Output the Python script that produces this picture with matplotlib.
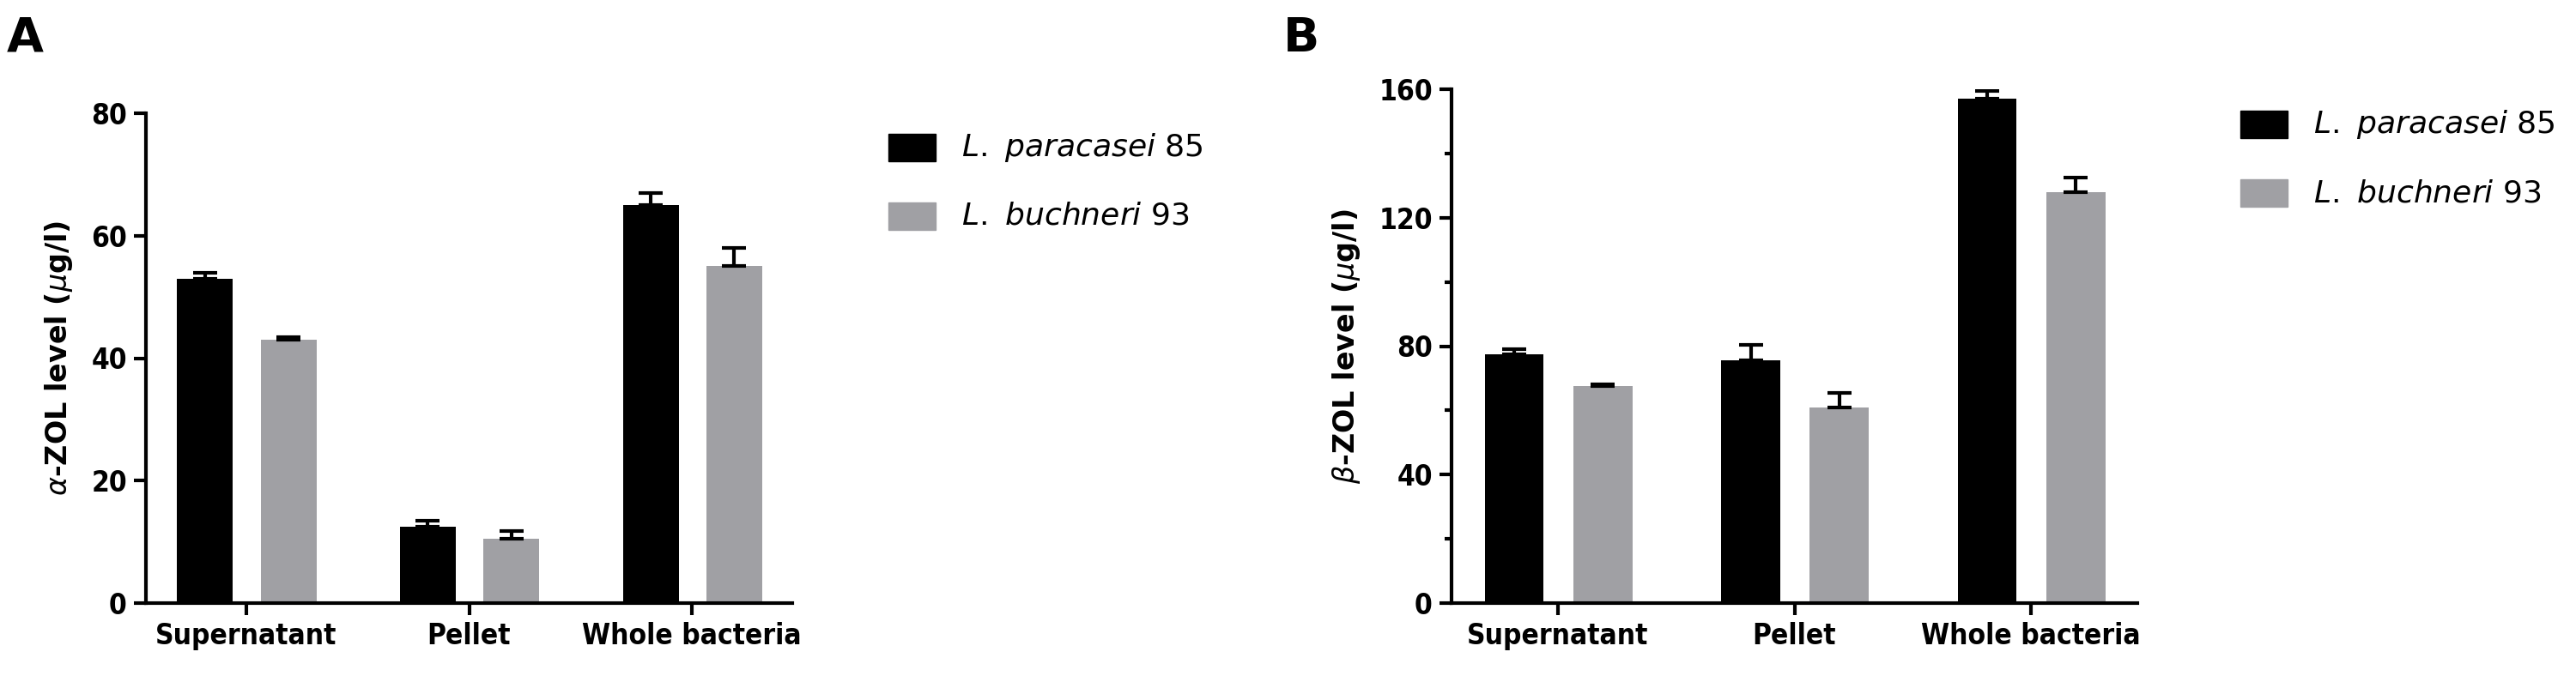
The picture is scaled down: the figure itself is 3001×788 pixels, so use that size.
import matplotlib
matplotlib.use("Agg")
import matplotlib.pyplot as plt
import numpy as np

categories = ["Supernatant", "Pellet", "Whole bacteria"]
series = ["L. paracasei 85", "L. buchneri 93"]
a_black = [53, 12.5, 65]
a_black_err = [1.0, 1.0, 2.0]
a_gray = [43, 10.5, 55]
a_gray_err = [0.5, 1.3, 3.0]
b_black = [77.5, 75.5, 157]
b_black_err = [1.5, 5.0, 2.5]
b_gray = [67.5, 61, 128]
b_gray_err = [0.6, 4.5, 4.5]

W, H = 3001, 788
fig = plt.figure(figsize=(W/100, H/100), dpi=100)
FONT = dict(family="DejaVu Sans", fontstretch="condensed", fontweight="bold")
BLACK = "#000000"; GRAY = "#a0a0a4"

def panel(rect, bl, ble, gr, gre, ymax, yticks, minor, ylabel, letter, letpos, legx, legy):
    ax = fig.add_axes([rect[0]/W, 1-rect[3]/H, (rect[2]-rect[0])/W, (rect[3]-rect[1])/H])
    x = np.arange(len(categories))
    w = 0.25
    ek = dict(elinewidth=3, capthick=3, ecolor="black")
    ax.bar(x-0.185, bl, w, color=BLACK, yerr=[np.zeros(3), ble], capsize=10, error_kw=ek, label=series[0])
    ax.bar(x+0.19, gr, w, color=GRAY, yerr=[np.zeros(3), gre], capsize=10, error_kw=ek, label=series[1])
    ax.set_xlim(-0.45, 2.45); ax.set_ylim(0, ymax)
    ax.set_yticks(yticks)
    if minor: ax.set_yticks(minor, minor=True)
    ax.set_xticks(x); ax.set_xticklabels(categories)
    for s in ["top", "right"]: ax.spines[s].set_visible(False)
    for s in ["left", "bottom"]: ax.spines[s].set_linewidth(3)
    ax.tick_params(width=3, length=10, labelsize=24, pad=6)
    ax.tick_params(which="minor", width=3, length=6)
    for t in ax.get_xticklabels() + ax.get_yticklabels():
        t.set_fontweight("bold"); t.set_fontstretch("condensed")
    ax.set_ylabel(ylabel, fontsize=24, fontweight="bold", labelpad=14)
    fig.text(letpos[0]/W, 1-letpos[1]/H, letter, fontsize=40, fontweight="bold", va="center")
    labs = [r"$\it{L.\ paracasei}$ 85", r"$\it{L.\ buchneri\ 93}$"]
    for i, (c, lab) in enumerate(zip([BLACK, GRAY], labs)):
        yy = legy + i*80
        fig.patches.append(plt.Rectangle((legx/W, 1-(yy+16)/H), 55/W, 32/H, color=c, transform=fig.transFigure))
        fig.text((legx+85)/W, 1-yy/H, lab, fontsize=26, va="center")
    return ax

plt.rcParams["mathtext.fontset"] = "dejavusans"
panel((170, 132, 923, 703), a_black, a_black_err, a_gray, a_gray_err, 80, [0, 20, 40, 60, 80], None,
      r"$\alpha$-ZOL level ($\mu$g/l)", "A", (8, 45), 1035, 172)
panel((1691, 104, 2490, 703), b_black, b_black_err, b_gray, b_gray_err, 160, [0, 40, 80, 120, 160],
      [20, 60, 100, 140], r"$\beta$-ZOL level ($\mu$g/l)", "B", (1495, 45), 2610, 145)
fig.savefig("out.png", dpi=100)
